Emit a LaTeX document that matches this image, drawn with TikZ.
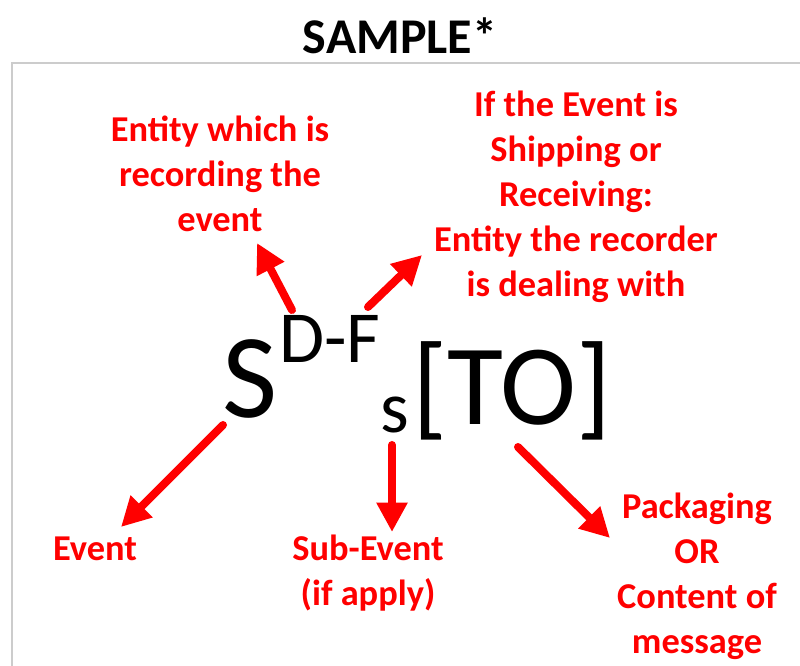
\documentclass[tikz,border=0pt]{standalone}
\usepackage{fontspec}
\setmainfont{Carlito}
\usetikzlibrary{arrows.meta, positioning}

\begin{document}
\begin{tikzpicture}[x=0.75pt, y=-0.75pt,
  lbl/.style = {text=red, font=\fontsize{27.3}{33.75}\selectfont\bfseries,
    align=center, inner sep=0pt, anchor=base},
  big/.style = {font=\fontsize{90}{90}\selectfont, inner sep=0pt, anchor=base},
  small/.style = {font=\fontsize{55}{55}\selectfont, inner sep=0pt, anchor=base},
  ptr/.style = {red, line width=6pt, line cap=round,
    -{Triangle[length=22pt, width=22pt]}}]
\useasboundingbox (0,0) rectangle (800,666);
\draw[gray!40, line width=1.8pt] (12,666) -- (12,63) -- (800,63);
\node[font=\fontsize{37.5}{45}\selectfont\bfseries, inner sep=0pt, anchor=base]
  (title) at (400,54) {SAMPLE*};

% the code itself
\node[big] (ev) at (250,418) {S};
\node[small] (sup) at (330,363) {D-F};
\node[small] (sub) at (395,433) {s};
\node[big, font=\fontsize{86}{86}\selectfont] (to) at (512,425) {[TO]};

% labels (base = last line)
\node[lbl] (recorder) at (220,232) {Entity which is\\recording the\\event};
\node[lbl] (partner) at (576,297)
  {If the Event is\\Shipping or\\Receiving:\\Entity the recorder\\is dealing with};
\node[lbl] (event) at (95,560) {Event};
\node[lbl] (subevent) at (368,605) {Sub-Event\\(if apply)};
\node[lbl] (packaging) at (697,653) {Packaging\\OR\\Content of\\message};

% arrow ends
\coordinate (a1) at (292,310);  \coordinate (b1) at (257,243);
\coordinate (a2) at (368,307);  \coordinate (b2) at (422,255);
\coordinate (a3) at (223,425);  \coordinate (b3) at (121,527);
\coordinate (a4) at (392,445);  \coordinate (b4) at (392,532);
\coordinate (a5) at (518,447);  \coordinate (b5) at (610,538);

\foreach \i in {1,...,5}
  \draw[ptr] (a\i) -- (b\i);
\end{tikzpicture}
\end{document}
